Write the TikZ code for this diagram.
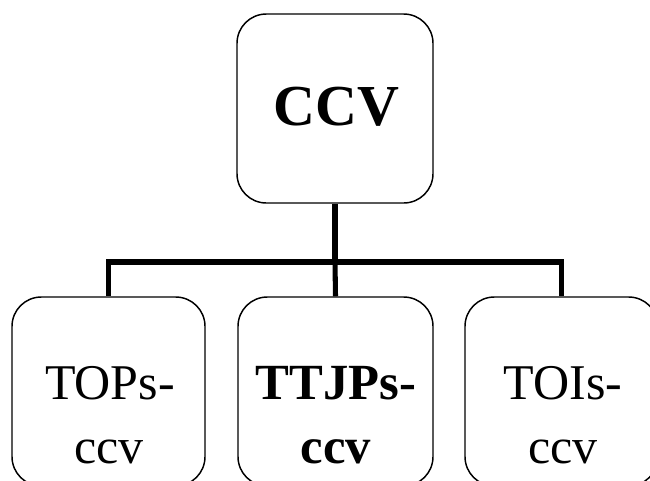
\documentclass[tikz,border=0pt]{standalone}
\usepackage{fontspec}
\setmainfont{Liberation Serif}
\begin{document}
\begin{tikzpicture}[x=0.75pt,y=-0.75pt,
  box/.style={draw=black,line width=1.1pt,rounded corners=22pt,inner sep=0pt,fill=white},
  conn/.style={draw=black,line width=3.8pt},
  lbl/.style={anchor=base,inner sep=0pt,font=\fontsize{37.5}{37.5}\selectfont},
  blbl/.style={lbl,font=\fontsize{38}{38}\selectfont\bfseries}]
\useasboundingbox (0,0) rectangle (650,480);
\begin{scope}
\clip (0,0) rectangle (650,480);
\node[box,minimum width=196*0.75pt,minimum height=189*0.75pt] (top) at (335,108.5) {};
\node[box,minimum width=193*0.75pt,minimum height=189*0.75pt] (b1) at (108.5,391.5) {};
\node[box,minimum width=195*0.75pt,minimum height=189*0.75pt] (b2) at (335.5,391.5) {};
\node[box,minimum width=193*0.75pt,minimum height=189*0.75pt] (b3) at (561.5,391.5) {};
\end{scope}
\node[anchor=base,inner sep=0pt,font=\fontsize{43.5}{43.5}\selectfont\bfseries] (ttop) at (336.5,125) {CCV};
\node[lbl] (t1a) at (110,399) {TOPs-};
\node[lbl] (t1b) at (109,463) {ccv};
\node[blbl] (t2a) at (336,399) {TTJPs-};
\node[blbl] (t2b) at (336,463) {ccv};
\node[lbl] (t3a) at (563,399) {TOIs-};
\node[lbl] (t3b) at (563,463) {ccv};
\coordinate (j) at (335,262);
\draw[conn] (top.south) -- (j);
\draw[conn] (j) -| (b1.north);
\draw[conn] (j) -| (b3.north);
\draw[conn] (j) -- (b2.north);
\end{tikzpicture}
\end{document}
